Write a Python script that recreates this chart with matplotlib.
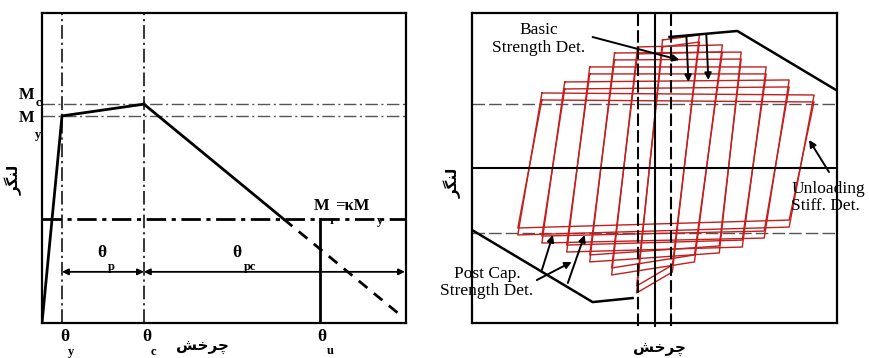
import matplotlib
matplotlib.use("Agg")
import matplotlib.pyplot as plt

plt.rcParams['mathtext.fontset'] = 'stix'

# ---------------- Left panel data (normalised rotation / moment) ----------------
theta_y, theta_c, theta_u = 0.055, 0.280, 0.764
M_c, M_y, M_r = 0.706, 0.668, 0.335
backbone_x = [0.0, 0.055, 0.280]
backbone_y = [0.0, 0.668, 0.706]
post_cap_end = (0.984, 0.026)
dim_y = 0.165

# ---------------- Right panel data ----------------
loop_tl_x = [0.044, 0.044, -0.093, -0.093, -0.219, -0.219, -0.355, -0.355, -0.492, -0.492, -0.617, -0.617]
loop_tl_y = [0.826, 0.781, 0.781, 0.736, 0.742, 0.697, 0.652, 0.607, 0.555, 0.510, 0.484, 0.439]
loop_tr_x = [0.246, 0.246, 0.372, 0.372, 0.475, 0.475, 0.612, 0.612, 0.738, 0.738, 0.874, 0.874]
loop_tr_y = [0.858, 0.813, 0.794, 0.749, 0.748, 0.703, 0.652, 0.607, 0.568, 0.523, 0.471, 0.426]
loop_br_x = [0.098, 0.098, 0.219, 0.219, 0.355, 0.355, 0.481, 0.481, 0.601, 0.601, 0.738, 0.738]
loop_br_y = [-0.671, -0.626, -0.606, -0.561, -0.548, -0.503, -0.510, -0.465, -0.452, -0.407, -0.381, -0.336]
loop_bl_x = [-0.098, -0.098, -0.235, -0.235, -0.355, -0.355, -0.481, -0.481, -0.617, -0.617, -0.749, -0.749]
loop_bl_y = [-0.806, -0.761, -0.690, -0.645, -0.606, -0.561, -0.542, -0.497, -0.484, -0.439, -0.432, -0.387]

env_top_x = [0.082, 0.454, 0.995]
env_top_y = [0.845, 0.884, 0.503]
env_bot_x = [-1.0, -0.339, -0.120]
env_bot_y = [-0.400, -0.865, -0.839]
h_dash_levels = [0.413, -0.419]
v_dash_pos = [-0.093, 0.093]

# Persian labels (pre-shaped, visual order)
lbl_rot = "\uFEB6\uFEA7\uFEAE\uFB7C"      # چرخش
lbl_mom = "\uFEAE\uFB95\uFEE8\uFEDF"      # لنگر

fig = plt.figure(figsize=(8.69, 3.58), dpi=100)
axL = fig.add_axes([42/869, 35/358, 364/869, 310/358])
axR = fig.add_axes([472/869, 35/358, 365/869, 310/358])

serif = 'Liberation Serif'

# ================= LEFT =================
ax = axL
ax.set_xlim(0, 1)
ax.set_ylim(0, 1)
ax.set_xticks([]); ax.set_yticks([])
for s in ax.spines.values():
    s.set_linewidth(1.6)

dashdot = (0, (9, 2.5, 1.5, 2.5))
ax.axhline(M_c, color='#555555', lw=1.0, ls=dashdot)
ax.axhline(M_y, color='#555555', lw=1.0, ls=dashdot)
ax.axhline(M_r, color='k', lw=2.0, ls=(0, (7, 2, 1.5, 2)))
ax.axvline(theta_y, color='k', lw=1.1, ls=dashdot)
ax.axvline(theta_c, color='k', lw=1.1, ls=dashdot)

ax.plot(backbone_x, backbone_y, color='k', lw=2.0, solid_joinstyle='miter')
slope = (post_cap_end[1] - M_c) / (post_cap_end[0] - theta_c)
x_r = theta_c + (M_r - M_c) / slope
ax.plot([theta_c, x_r], [M_c, M_r], color='k', lw=2.0)
ax.plot([x_r, post_cap_end[0]], [M_r, post_cap_end[1]], color='k', lw=2.0, ls=(0, (4, 3)))
ax.plot([theta_u, theta_u], [0, M_r], color='k', lw=2.0)

ax.annotate('', xy=(theta_y, dim_y), xytext=(theta_c, dim_y),
            arrowprops=dict(arrowstyle='<|-|>', color='k', lw=1.3, mutation_scale=9, shrinkA=0, shrinkB=0))
ax.annotate('', xy=(theta_c, dim_y), xytext=(0.997, dim_y),
            arrowprops=dict(arrowstyle='<|-|>', color='k', lw=1.3, mutation_scale=9, shrinkA=0, shrinkB=0))

tk = dict(fontfamily=serif, fontweight='bold', ha='center', va='center', clip_on=False)
ax.text(0.165, 0.226, 'θ', fontsize=12.5, **tk)
ax.text(0.190, 0.180, 'p', fontsize=9, **tk)
ax.text(0.536, 0.226, 'θ', fontsize=12.5, **tk)
ax.text(0.571, 0.180, 'pc', fontsize=9, **tk)

ax.text(-0.043, 0.735, 'M', fontsize=12, **tk)
ax.text(-0.010, 0.710, 'c', fontsize=9, **tk)
ax.text(-0.043, 0.660, 'M', fontsize=12, **tk)
ax.text(-0.010, 0.606, 'y', fontsize=9, **tk)

ax.text(0.769, 0.376, 'M', fontsize=12, **tk)
ax.text(0.797, 0.328, 'r', fontsize=9, **tk)
ax.text(0.806, 0.376, '=κM', fontsize=12, fontfamily=serif, fontweight='bold',
        ha='left', va='center', clip_on=False)
ax.text(0.929, 0.328, 'y', fontsize=9, **tk)

ax.text(0.063, -0.045, 'θ', fontsize=12.5, **tk)
ax.text(0.080, -0.095, 'y', fontsize=9, **tk)
ax.text(0.288, -0.045, 'θ', fontsize=12.5, **tk)
ax.text(0.305, -0.095, 'c', fontsize=9, **tk)
ax.text(0.769, -0.045, 'θ', fontsize=12.5, **tk)
ax.text(0.791, -0.090, 'u', fontsize=9, **tk)

ax.text(0.442, -0.080, lbl_rot, fontsize=11, fontfamily='DejaVu Sans', fontweight='bold',
        ha='center', va='center', clip_on=False)
ax.text(-0.078, 0.461, lbl_mom, fontsize=11, fontfamily='DejaVu Sans', fontweight='bold',
        rotation=90, ha='center', va='center', clip_on=False)

# ================= RIGHT =================
ax = axR
ax.set_xlim(-1, 1)
ax.set_ylim(-1, 1)
ax.set_xticks([]); ax.set_yticks([])
for s in ax.spines.values():
    s.set_linewidth(1.6)

for lv in h_dash_levels:
    ax.axhline(lv, color='#555555', lw=1.0, ls=(0, (9, 3)))

red = '#c41e1e'
for i in range(len(loop_tl_x)):
    xs = [loop_tl_x[i], loop_tr_x[i], loop_br_x[i], loop_bl_x[i], loop_tl_x[i]]
    ys = [loop_tl_y[i], loop_tr_y[i], loop_br_y[i], loop_bl_y[i], loop_tl_y[i]]
    ax.plot(xs, ys, color=red, lw=1.0)

ax.axhline(0, color='k', lw=1.5)
ax.axvline(0, color='k', lw=1.5, ymin=-0.01, clip_on=False)
for xv in v_dash_pos:
    ax.axvline(xv, color='k', lw=1.5, ls=(0, (6, 2)), ymin=-0.01, clip_on=False)

ax.plot(env_top_x, env_top_y, color='k', lw=1.8)
ax.plot(env_bot_x, env_bot_y, color='k', lw=1.8)

ap = dict(arrowstyle='-|>', color='k', lw=1.4, mutation_scale=10, shrinkA=0, shrinkB=0)
ax.annotate('', xy=(0.137, 0.697), xytext=(-0.339, 0.845), arrowprops=ap)
ax.annotate('', xy=(0.186, 0.555), xytext=(0.175, 0.845), arrowprops=ap)
ax.annotate('', xy=(0.295, 0.568), xytext=(0.284, 0.858), arrowprops=ap)
ax.annotate('', xy=(0.847, 0.181), xytext=(0.956, -0.026), arrowprops=ap)
ax.annotate('', xy=(-0.557, -0.432), xytext=(-0.617, -0.658), arrowprops=ap)
ax.annotate('', xy=(-0.383, -0.432), xytext=(-0.475, -0.742), arrowprops=ap)
ax.annotate('', xy=(-0.454, -0.606), xytext=(-0.645, -0.723), arrowprops=ap)

tx = dict(fontfamily=serif, fontsize=12.5, ha='center', va='center', clip_on=False, linespacing=1.15)
ax.text(-0.633, 0.830, 'Basic\nStrength Det.', **tx)
ax.text(-0.918, -0.739, 'Post Cap.\nStrength Det.', **tx)
ax.text(0.749, -0.190, 'Unloading\nStiff. Det.', fontfamily=serif, fontsize=12.5, ha='left',
        va='center', clip_on=False, linespacing=1.15)

ax.text(0.027, -1.168, lbl_rot, fontsize=11, fontfamily='DejaVu Sans', fontweight='bold',
        ha='center', va='center', clip_on=False)
ax.text(-1.104, -0.097, lbl_mom, fontsize=11, fontfamily='DejaVu Sans', fontweight='bold',
        rotation=90, ha='center', va='center', clip_on=False)

fig.savefig('out.png', dpi=100)
